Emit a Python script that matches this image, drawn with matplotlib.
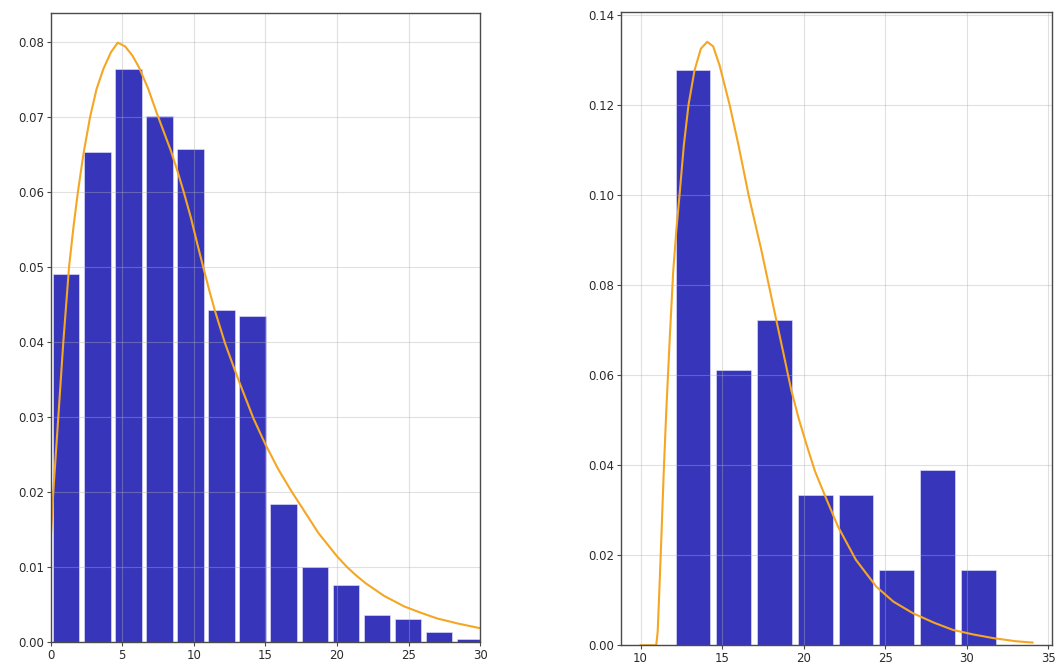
import matplotlib
matplotlib.use("Agg")
import matplotlib.pyplot as plt
from matplotlib.ticker import FormatStrFormatter

# ---------------- data ----------------
left_bin_edges = [0.0, 2.17, 4.34, 6.51, 8.68, 10.85, 13.02, 15.19, 17.36,
                  19.53, 21.70, 23.87, 26.04, 28.21, 30.38]
left_density = [0.0491, 0.0653, 0.0764, 0.0701, 0.0657, 0.0443, 0.0434,
                0.0184, 0.0099, 0.0075, 0.0036, 0.0030, 0.0013, 0.0004]

left_curve_x = [0.0, 0.18, 0.53, 0.88, 1.28, 1.6, 1.9, 2.28, 2.75, 3.2, 3.68,
                4.2, 4.68, 5.2, 5.7, 6.17, 6.8, 7.41, 7.9, 8.39, 8.85, 9.32,
                9.8, 10.25, 10.65, 11.1, 11.48, 12.18, 13.1, 14.16, 14.98,
                15.9, 16.84, 17.42, 18.7, 20.0, 20.68, 21.3, 22.0, 23.3, 24.7,
                25.8, 27.0, 28.5, 30.0]
left_curve_y = [0.0136, 0.0200, 0.0300, 0.0400, 0.0500, 0.0555, 0.0600, 0.0650,
                0.0700, 0.0737, 0.0764, 0.0786, 0.0799, 0.0794, 0.0782, 0.0766,
                0.0738, 0.0705, 0.0680, 0.0655, 0.0628, 0.0598, 0.0565, 0.0530,
                0.0500, 0.0467, 0.0441, 0.0398, 0.0350, 0.0298, 0.0264, 0.0230,
                0.0200, 0.0183, 0.0145, 0.0114, 0.0100, 0.0089, 0.0078, 0.0061,
                0.0047, 0.0039, 0.0031, 0.0024, 0.0018]

right_bin_edges = [11.96, 14.46, 16.96, 19.46, 21.96, 24.46, 26.96, 29.46, 31.96]
right_density = [0.1278, 0.0612, 0.0722, 0.0334, 0.0334, 0.0168, 0.0389, 0.0168]

right_curve_x = [10.0, 10.96, 11.05, 11.15, 11.27, 11.42, 11.58, 11.8, 12.0,
                 12.2, 12.39, 12.65, 12.94, 13.31, 13.7, 14.09, 14.45, 14.85,
                 15.46, 16.0, 16.62, 17.4, 18.32, 18.8, 19.24, 19.7, 20.2,
                 20.7, 21.29, 22.1, 23.2, 24.46, 25.5, 26.71, 28.0, 29.16,
                 30.4, 31.61, 33.0, 34.03]
right_curve_y = [0.0, 0.0, 0.0030, 0.0120, 0.0234, 0.0385, 0.0523, 0.0690,
                 0.0830, 0.0925, 0.1001, 0.1110, 0.1201, 0.1278, 0.1326, 0.1341,
                 0.1331, 0.1288, 0.1201, 0.1112, 0.1001, 0.0879, 0.0723, 0.0642,
                 0.0567, 0.0503, 0.0443, 0.0386, 0.0334, 0.0264, 0.0190, 0.0130,
                 0.0097, 0.0071, 0.0050, 0.0034, 0.0024, 0.0016, 0.0009, 0.0006]

left_xticks = [0, 5, 10, 15, 20, 25, 30]
left_yticks = [0.00, 0.01, 0.02, 0.03, 0.04, 0.05, 0.06, 0.07, 0.08]
right_xticks = [10, 15, 20, 25, 30, 35]
right_yticks = [0.00, 0.02, 0.04, 0.06, 0.08, 0.10, 0.12, 0.14]

# ---------------- style ----------------
BAR_COLOR = "#0504aa"
LINE_COLOR = "#f5a623"
TEXT_COLOR = "#2b2b2b"
SPINE_COLOR = "#4a4a4a"

fig = plt.figure(figsize=(10.57, 6.64), dpi=100)
ax1 = fig.add_axes([0.0480, 0.0336, 0.4062, 0.9473])
ax2 = fig.add_axes([0.5875, 0.0282, 0.4074, 0.9542])


def style(ax):
    ax.grid(True, color="#b0b0b0", alpha=0.38, linewidth=0.8)
    for s in ax.spines.values():
        s.set_color(SPINE_COLOR)
        s.set_linewidth(1.0)
    ax.tick_params(colors=TEXT_COLOR, labelsize=8.5, length=3, width=0.8,
                   color=SPINE_COLOR, pad=2)
    ax.yaxis.set_major_formatter(FormatStrFormatter("%.2f"))


# left panel
ax1.hist(left_bin_edges[:-1], bins=left_bin_edges, weights=left_density,
         rwidth=0.85, color=BAR_COLOR, alpha=0.8, edgecolor="#e6e6ff",
         linewidth=0.5)
ax1.plot(left_curve_x, left_curve_y, color=LINE_COLOR, linewidth=1.5)
ax1.set_xlim(0, 30)
ax1.set_xticks(left_xticks)
ax1.set_yticks(left_yticks)
ax1.set_ylim(0, 0.0839)
style(ax1)

# right panel
ax2.hist(right_bin_edges[:-1], bins=right_bin_edges, weights=right_density,
         rwidth=0.85, color=BAR_COLOR, alpha=0.8, edgecolor="#e6e6ff",
         linewidth=0.5)
ax2.plot(right_curve_x, right_curve_y, color=LINE_COLOR, linewidth=1.5)
ax2.set_xlim(8.8, 35.2)
ax2.set_xticks(right_xticks)
ax2.set_yticks(right_yticks)
ax2.set_ylim(0, 0.1408)
style(ax2)

fig.savefig("out.png", dpi=100)
